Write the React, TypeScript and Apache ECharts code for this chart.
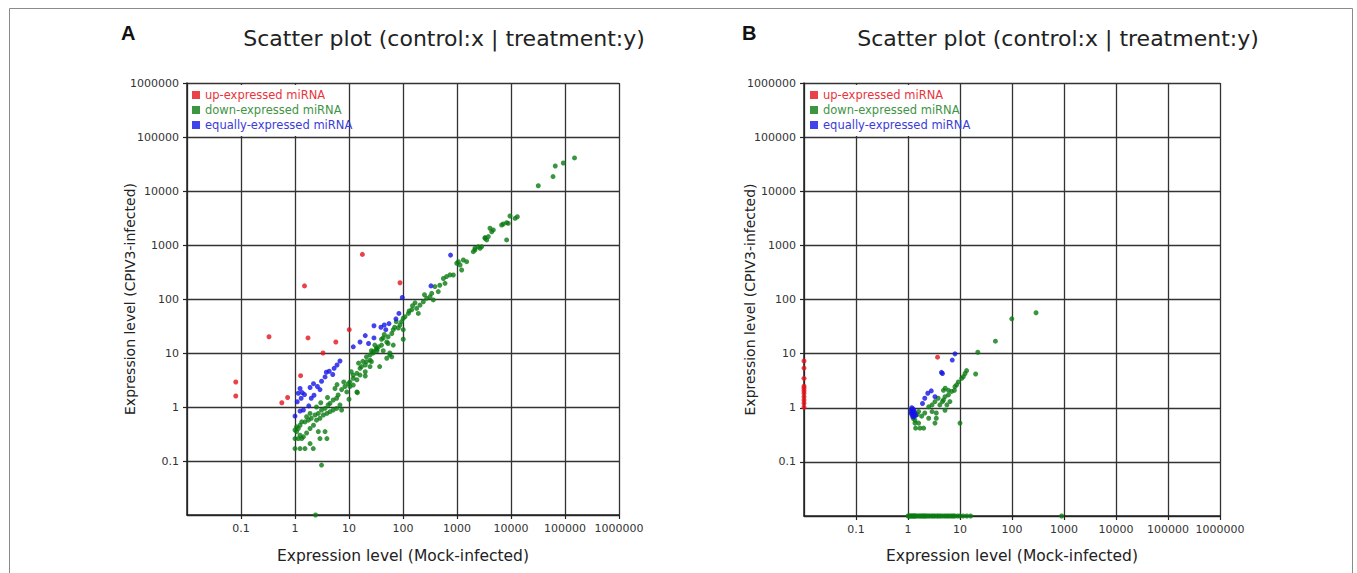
import React, { useEffect, useRef } from 'react';
import * as echarts from 'echarts';

const SERIES_NAMES = ['up-expressed miRNA', 'down-expressed miRNA', 'equally-expressed miRNA'];
const PANEL_LABELS = ['A', 'B'];
const TITLE_TEXT = 'Scatter plot (control:x | treatment:y)';
const X_NAME = 'Expression level (Mock-infected)';
const Y_NAME = 'Expression level (CPIV3-infected)';
const AXIS_MIN = 0.01;
const AXIS_MAX = 1000000;

// Panel A
const upA = [
  [0.08, 2.9], [0.08, 1.6], [0.33, 20], [1.74, 19], [5.7, 16], [10.1, 27], [3.3, 10],
  [1.27, 3.8], [0.57, 1.2], [0.73, 1.5], [17.7, 670], [1.5, 175], [88, 200],
];
const equalA = [
  [760, 650], [330, 175], [97, 107], [84, 54], [74, 43], [29, 32], [39, 30], [45, 33], [48, 27],
  [20, 21], [16, 16], [29, 19], [23, 15], [6.8, 7.1], [5.3, 5.2], [4.3, 4.6], [3.6, 3.6], [5.0, 4.0],
  [3.1, 3.0], [2.2, 2.7], [2.9, 2.1], [2.25, 1.65], [2.0, 1.45], [1.5, 1.7], [1.24, 2.2], [1.36, 1.85],
  [1.15, 1.8], [1.3, 1.45], [1.8, 1.05], [1.43, 0.88], [1.24, 0.84], [1.0, 0.68], [2.6, 2.4],
  [1.9, 2.3], [3.8, 4.4], [6.0, 6.0], [1.1, 1.25], [12, 13], [55, 35],
];
const downA = [
  [150000, 41000], [93000, 33000], [66000, 29000], [60000, 18500], [32000, 12500],
  [13100, 3340], [11900, 3120], [9570, 3440], [8900, 2520], [7200, 2450], [6700, 2350], [8300, 2590],
  [4080, 2040], [4390, 1760], [3800, 1430], [3300, 1370], [3550, 1240], [8300, 1240], [2860, 930],
  [2150, 870], [2670, 870], [4700, 1900], [3300, 1330], [2480, 930], [2150, 808], [2000, 753],
  [1510, 491], [1310, 527], [1140, 426], [1220, 344], [855, 278], [1060, 490], [990, 460],
  [740, 280], [640, 260], [560, 240], [600, 195], [480, 180], [390, 170], [450, 137], [340, 127],
  [316, 110], [274, 103], [364, 96], [238, 89], [206, 77], [167, 85], [179, 67], [192, 54], [145, 63],
  [126, 54], [109, 47], [101, 44], [94, 38], [88, 33], [82, 29], [101, 27], [66, 27], [62, 23],
  [53, 20], [43, 19], [50, 16], [40, 14], [35, 13], [33, 12], [28, 10.6], [24.5, 9.2], [21, 8.5],
  [57, 10], [62, 8.5], [101, 18], [66, 14], [53, 15], [37, 5.6], [50, 8], [57, 9.2], [43, 11],
  [33, 11], [28, 10], [20, 6], [16, 5.2], [14, 4.2], [12, 3.9], [14, 1.9], [10.4, 2.4],
  [32, 12], [24.5, 7.4], [21, 6.9], [24.5, 5.6], [20, 4.5], [16, 3.9], [17, 5.6], [14, 3.2],
  [12, 3.4], [10.4, 2.9], [9.7, 2.7], [8.4, 2.4], [9.1, 1.9], [7.3, 2.1], [6.3, 1.67], [5.9, 1.45],
  [5.1, 1.35], [4.45, 1.17], [4.1, 1.09], [3.6, 0.94], [3.1, 0.88], [2.7, 0.76], [2.35, 0.71],
  [2.0, 0.62], [1.77, 0.57], [1.53, 0.53], [1.33, 0.53], [1.24, 0.46], [1.15, 0.4], [1.07, 0.43],
  [1.0, 0.375], [1.07, 0.35], [1.24, 0.3], [1.43, 0.28], [1.64, 0.33], [1.9, 0.4], [2.2, 0.46],
  [2.5, 0.57], [2.9, 0.62], [3.35, 0.71], [3.9, 0.76], [4.45, 0.82], [5.1, 0.88], [5.9, 0.94],
  [6.8, 1.09], [7.3, 0.88], [10, 1.39], [14.3, 1.84], [20, 3.75], [26, 6.9], [1.0, 0.26],
  [1.15, 0.26], [1.33, 0.26], [1.0, 0.17], [1.24, 0.17], [1.53, 0.17], [2.18, 0.17], [2.7, 0.35],
  [3.6, 0.35], [3.9, 0.26], [2.9, 0.26], [3.1, 0.084], [1.9, 0.21], [5.5, 2.2], [12, 2.55],
  [2.5, 1.0], [1.9, 0.76], [1.64, 0.66], [2.4, 0.01],
  [8.0, 2.9], [11, 4.5], [18, 7.0], [30, 14], [45, 22], [70, 30], [130, 60], [250, 120],
  [6.0, 2.6], [4.0, 1.5], [3.0, 1.2], [15, 6.5], [26, 11], [40, 18], [75, 38], [150, 75],
];

// Panel B
const upB = [
  [3.7, 8.6], [0.01, 7.3], [0.01, 5.4], [0.01, 3.5], [0.01, 2.5], [0.01, 2.3], [0.01, 2.07],
  [0.01, 1.85], [0.01, 1.6], [0.01, 1.39], [0.01, 1.21], [0.01, 1.02],
];
const equalB = [
  [8.0, 9.9], [7.1, 7.6], [4.6, 4.3], [4.4, 4.5], [2.8, 2.05], [2.4, 1.85], [3.3, 1.6], [2.1, 1.5],
  [1.9, 1.2], [1.18, 1.0], [1.2, 0.9], [1.25, 0.85], [1.2, 0.8], [1.3, 0.75], [1.22, 0.7], [1.15, 0.78],
  [1.3, 0.9], [1.35, 0.8], [1.28, 0.68], [1.17, 0.92], [1.4, 0.72], [1.15, 0.85], [1.25, 0.95],
];
const downB = [
  [290, 57], [99, 44], [48, 17], [22, 10.6], [20, 4.2], [13.4, 4.85], [12.5, 4.3], [11.6, 3.76],
  [10.8, 3.5], [9.3, 3.0], [8.6, 2.65], [8.0, 2.45], [7.8, 2.1], [6.9, 2.0], [6.0, 1.73], [5.15, 1.6],
  [4.8, 1.39], [4.6, 1.3], [4.1, 1.13], [5.6, 1.13], [6.4, 1.3], [4.8, 2.1], [5.2, 2.3], [6.0, 2.1],
  [3.8, 1.5], [3.3, 1.3], [2.9, 1.13], [2.5, 1.04], [2.9, 0.85], [3.5, 0.8], [3.5, 0.64], [2.5, 0.64],
  [2.1, 0.8], [1.83, 0.7], [1.6, 0.85], [1.5, 0.75], [1.36, 0.59], [1.36, 0.52], [1.6, 0.52],
  [1.4, 0.42], [1.7, 0.42], [2.0, 0.42], [3.3, 0.52], [10, 0.52], [5.15, 0.9], [1.26, 0.64],
  [1.0, 0.01], [1.05, 0.01], [1.1, 0.01], [1.15, 0.01], [1.2, 0.01], [1.25, 0.01], [1.3, 0.01],
  [1.35, 0.01], [1.4, 0.01], [1.5, 0.01], [1.6, 0.01], [1.7, 0.01], [1.8, 0.01], [1.9, 0.01],
  [2.0, 0.01], [2.1, 0.01], [2.2, 0.01], [2.35, 0.01], [2.5, 0.01], [2.7, 0.01], [2.9, 0.01],
  [3.1, 0.01], [3.3, 0.01], [3.6, 0.01], [3.8, 0.01], [4.1, 0.01], [4.4, 0.01], [4.8, 0.01],
  [5.2, 0.01], [5.6, 0.01], [6.0, 0.01], [6.5, 0.01], [7.0, 0.01], [7.5, 0.01], [8.0, 0.01],
  [9.0, 0.01], [10, 0.01], [11.5, 0.01], [13.5, 0.01], [16, 0.01], [900, 0.01],
];

const MARK_COLORS = ['#e3141c', '#0a7a12', '#1414e6'];
const LEGEND_TEXT_COLORS = ['#e8343c', '#3f9446', '#3c3cd8'];
const FONT = 'DejaVu Sans';

function fmt(v: number) {
  if (v < 0.05) return '';
  if (v < 1) return (Math.round(v * 10) / 10).toString();
  return String(Math.round(v));
}

function axis(gridIndex: number, isY: boolean, nameGap: number) {
  return {
    type: 'log',
    logBase: 10,
    gridIndex,
    min: AXIS_MIN,
    max: AXIS_MAX,
    splitNumber: 8,
    name: isY ? Y_NAME : X_NAME,
    nameLocation: 'middle',
    nameGap,
    ...(isY ? { nameMoveOverlap: false } : {}),
    nameTextStyle: { fontSize: isY ? 14 : 15.5, color: '#222', fontFamily: FONT },
    axisLine: { show: true, onZero: false, lineStyle: { color: '#222', width: 1.5 } },
    axisTick: { show: true, length: 4, lineStyle: { color: '#222', width: 1.2 } },
    splitLine: { show: true, lineStyle: { color: '#333', width: 1.3 } },
    axisLabel: {
      show: true,
      showMinLabel: false,
      formatter: fmt,
      color: '#333',
      fontSize: 11,
      fontFamily: FONT,
      margin: 8,
    },
  };
}

export default function App() {
  const ref = useRef<HTMLDivElement>(null);
  useEffect(() => {
    document.body.style.margin = '0';
    const chart = echarts.init(ref.current!, null, { renderer: 'svg' });
    const panels = [
      { up: upA, down: downA, equal: equalA },
      { up: upB, down: downB, equal: equalB },
    ];
    const series: any[] = [];
    panels.forEach((p, i) => {
      [p.up, p.down, p.equal].forEach((d, k) => {
        series.push({
          type: 'scatter',
          name: SERIES_NAMES[k],
          xAxisIndex: i,
          yAxisIndex: i,
          data: d,
          symbol: 'circle',
          symbolSize: 5,
          clip: false,
          itemStyle: { color: MARK_COLORS[k] },
          z: k === 0 ? 4 : 3,
        });
      });
    });
    const legendData = SERIES_NAMES.map((n, k) => ({
      name: n,
      textStyle: { color: LEGEND_TEXT_COLORS[k] },
    }));
    const legendBase = {
      orient: 'vertical',
      top: 89,
      icon: 'rect',
      itemWidth: 8,
      itemHeight: 8,
      itemGap: 3,
      padding: 0,
      selectedMode: false,
      textStyle: { fontSize: 11.5, fontFamily: FONT, lineHeight: 12 },
      data: legendData,
    };
    chart.setOption({
      animation: false,
      backgroundColor: '#fff',
      title: [
        { text: PANEL_LABELS[0], left: 116, top: 18, textStyle: { fontSize: 20, fontWeight: 'bold', color: '#111', fontFamily: 'Liberation Sans' } },
        { text: TITLE_TEXT, left: 439, top: 22, textAlign: 'center', textStyle: { fontSize: 22, fontWeight: 'normal', color: '#222', fontFamily: FONT } },
        { text: PANEL_LABELS[1], left: 737, top: 18, textStyle: { fontSize: 20, fontWeight: 'bold', color: '#111', fontFamily: 'Liberation Sans' } },
        { text: TITLE_TEXT, left: 1053, top: 22, textAlign: 'center', textStyle: { fontSize: 22, fontWeight: 'normal', color: '#222', fontFamily: FONT } },
      ],
      grid: [
        { left: 187, top: 83, width: 432, height: 432 },
        { left: 804, top: 83, width: 416, height: 433 },
      ],
      xAxis: [axis(0, false, 33), axis(1, false, 32)],
      yAxis: [axis(0, true, 50), axis(1, true, 47)],
      legend: [
        { ...legendBase, left: 192 },
        { ...legendBase, left: 810 },
      ],
      graphic: [
        { type: 'rect', left: 7, top: 6, shape: { width: 1343, height: 600 }, style: { fill: 'none', stroke: '#8a8a8a', lineWidth: 1 }, z: 1 },
        { type: 'rect', left: 189, top: 85, shape: { width: 158, height: 51 }, style: { fill: '#fff' }, z: 3 },
        { type: 'rect', left: 806, top: 85, shape: { width: 153, height: 51 }, style: { fill: '#fff' }, z: 3 },
      ],
      series,
    });
    return () => chart.dispose();
  }, []);
  return <div ref={ref} style={{ width: 1357, height: 573 }} />;
}
